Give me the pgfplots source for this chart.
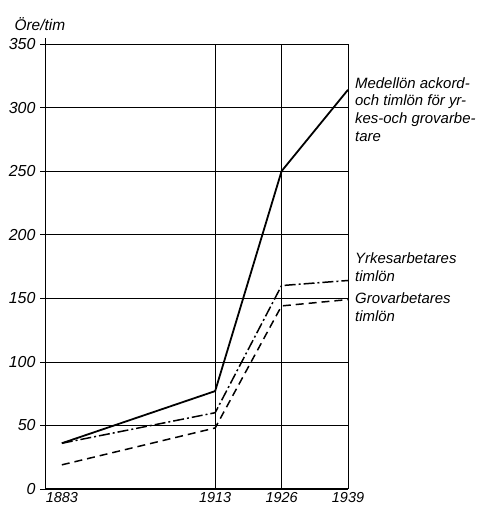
\documentclass[border=0pt]{standalone}
\usepackage{fontspec}
\setmainfont{Liberation Sans}
\usepackage{pgfplots}
\pgfplotsset{compat=1.18}
\begin{document}
\begin{tikzpicture}
\useasboundingbox (-45bp,-16bp) rectangle (443bp,489bp);
\begin{axis}[
  scale only axis,
  width=303bp, height=445bp,
  xmin=1879.7, xmax=1939,
  ymin=0, ymax=350,
  axis x line=none,
  axis y line=left,
  axis line style={line width=0.7pt,-},
  xtick=\empty,
  ytick={0,50,100,150,200,250,300,350},
  ymajorgrids,
  grid style={black,line width=0.6pt},
  tick align=outside,
  major tick length=5bp,
  tick style={black,line width=0.7pt},
  /pgf/number format/assume math mode=true,
  tick label style={font=\fontsize{16}{18}\selectfont\itshape},
  yticklabel style={xshift=-1bp},
  clip=false,
]
% vertical grid lines
\draw[line width=0.6pt] (axis cs:1913,0) -- (axis cs:1913,350);
\draw[line width=0.6pt] (axis cs:1926,0) -- (axis cs:1926,350);
\draw[line width=0.7pt] (axis cs:1939,0) -- (axis cs:1939,350);
\draw[line width=0.7pt] (axis cs:1879.7,350) -- (axis cs:1879.7,355);
% thick base line
\draw[line width=3pt] (axis cs:1879.7,0) -- (axis cs:1939,0);
% x tick labels
\begin{scope}[every node/.style={anchor=north,font=\fontsize{14.5}{16}\selectfont\itshape,inner sep=0pt}]
\node at (axis cs:1883,-2.5) {1883};
\node at (axis cs:1913,-2.5) {1913};
\node at (axis cs:1926,-2.5) {1926};
\node at (axis cs:1939,-2.5) {1939};
\end{scope}
% data
\addplot[black,line width=1.8pt] coordinates {(1883,36) (1913,77) (1926,250) (1939,314)};
\addplot[black,line width=1.5pt,dash pattern=on 11pt off 3pt on 2pt off 3pt] coordinates {(1883,36) (1913,60) (1926,160) (1939,164)};
\addplot[black,line width=1.5pt,dash pattern=on 8pt off 5pt] coordinates {(1883,19) (1913,48) (1926,144) (1939,149)};
% annotations
\begin{scope}[every node/.style={anchor=base west,inner sep=0pt,font=\fontsize{15}{17}\selectfont\itshape}]
\node at (rel axis cs:1.023,0.901) {Medellön ackord-};
\node at (rel axis cs:1.023,0.861) {och timlön för yr-};
\node at (rel axis cs:1.023,0.822) {kes-och grovarbe-};
\node at (rel axis cs:1.023,0.782) {tare};
\node at (rel axis cs:1.023,0.506) {Yrkesarbetares};
\node at (rel axis cs:1.023,0.466) {timlön};
\node at (rel axis cs:1.023,0.416) {Grovarbetares};
\node at (rel axis cs:1.023,0.376) {timlön};
\node[anchor=base,font=\fontsize{15.5}{17}\selectfont\itshape] at (rel axis cs:-0.017,1.03) {Öre/tim};
\end{scope}
\end{axis}
\end{tikzpicture}
\end{document}
